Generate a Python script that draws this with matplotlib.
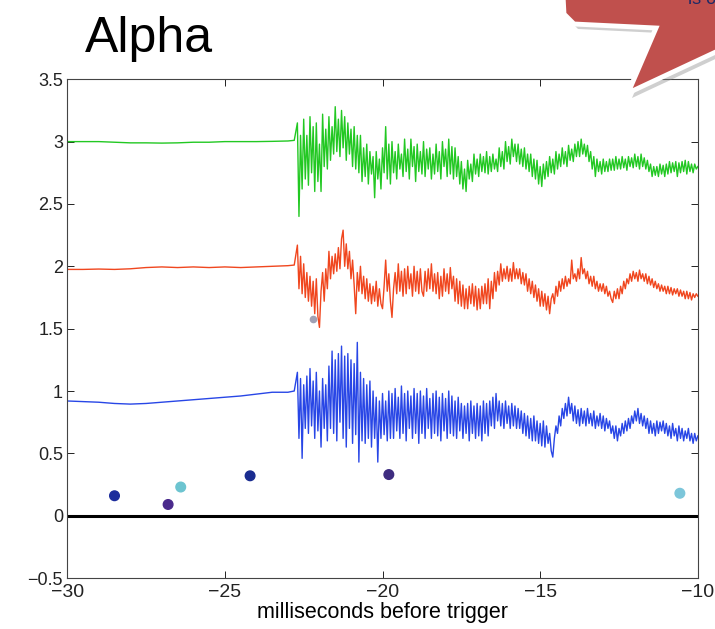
import numpy as np
import matplotlib.pyplot as plt
from matplotlib.patches import Polygon

plt.rcParams['font.family'] = ['Liberation Sans', 'DejaVu Sans']

# quiet stretch before the onset (ms, value)
flat_t = [-30.0, -29.5, -29.0, -28.5, -28.0, -27.5, -27.0, -26.5,
          -26.0, -25.5, -25.0, -24.5, -24.0, -23.5, -23.0, -22.8]
green_flat = [3.0, 3.0, 3.0, 2.995, 2.99, 2.99, 2.988, 2.99,
              2.995, 2.995, 3.0, 3.0, 3.0, 3.002, 3.005, 3.01]
red_flat = [1.975, 1.975, 1.978, 1.975, 1.98, 1.99, 1.995, 1.99,
            1.995, 1.99, 1.995, 1.99, 1.995, 2.0, 2.005, 2.01]
blue_flat = [0.92, 0.915, 0.91, 0.9, 0.895, 0.9, 0.91, 0.92,
             0.93, 0.94, 0.95, 0.96, 0.975, 0.99, 0.99, 1.0]

# noisy stretch, one sample every 0.05 ms from -22.7 ms (one row = 1 ms)
noisy_t0 = -22.7
noisy_dt = 0.05
green_noisy = [
    3.15, 2.40, 3.05, 2.62, 3.18, 2.70, 3.05, 2.65, 3.20, 2.75, 3.12, 2.60, 3.15, 2.68, 2.98, 2.60, 3.22, 2.80, 3.10, 2.78,
    3.20, 2.85, 3.12, 2.90, 3.28, 2.92, 3.18, 2.88, 3.25, 2.95, 3.20, 2.85, 3.15, 2.90, 3.10, 2.80, 3.12, 2.78, 3.05, 2.75,
    3.05, 2.68, 2.95, 2.72, 2.98, 2.66, 2.92, 2.74, 2.88, 2.55, 2.92, 2.70, 2.86, 2.62, 2.95, 2.75, 3.12, 2.70, 2.98, 2.66,
    3.00, 2.75, 2.92, 2.70, 2.98, 2.78, 2.90, 2.72, 3.02, 2.76, 2.94, 2.70, 3.02, 2.80, 2.96, 2.68, 2.98, 2.76, 2.92, 2.74,
    3.00, 2.72, 2.94, 2.78, 2.95, 2.70, 2.90, 2.74, 2.98, 2.76, 2.92, 2.70, 3.00, 2.80, 2.94, 2.72, 3.02, 2.74, 2.96, 2.70,
    2.95, 2.72, 2.88, 2.66, 2.84, 2.62, 2.78, 2.60, 2.85, 2.70, 2.82, 2.68, 2.90, 2.74, 2.86, 2.72, 2.90, 2.76, 2.88, 2.75,
    2.92, 2.74, 2.88, 2.76, 2.90, 2.78, 2.86, 2.76, 2.95, 2.80, 2.92, 2.78, 3.00, 2.84, 2.96, 2.82, 3.02, 2.88, 2.98, 2.84,
    2.98, 2.82, 2.94, 2.80, 2.95, 2.78, 2.90, 2.76, 2.90, 2.72, 2.86, 2.70, 2.85, 2.66, 2.80, 2.64, 2.82, 2.70, 2.84, 2.72,
    2.88, 2.75, 2.86, 2.74, 2.92, 2.78, 2.90, 2.80, 2.95, 2.82, 2.92, 2.80, 2.97, 2.85, 2.94, 2.84, 2.98, 2.88, 3.00, 2.88,
    3.02, 2.90, 2.98, 2.88, 2.97, 2.84, 2.92, 2.78, 2.88, 2.72, 2.86, 2.76, 2.84, 2.74, 2.86, 2.76, 2.84, 2.76, 2.86, 2.77,
    2.86, 2.77, 2.88, 2.78, 2.86, 2.78, 2.88, 2.79, 2.86, 2.77, 2.88, 2.80, 2.87, 2.79, 2.90, 2.80, 2.88, 2.78, 2.90, 2.80,
    2.87, 2.78, 2.85, 2.76, 2.82, 2.72, 2.80, 2.73, 2.80, 2.72, 2.82, 2.74, 2.81, 2.72, 2.82, 2.74, 2.84, 2.75, 2.83, 2.76,
    2.84, 2.72, 2.83, 2.75, 2.84, 2.76, 2.85, 2.74, 2.84, 2.76, 2.82, 2.75, 2.82, 2.78, 2.80]
red_noisy = [
    2.17, 1.82, 2.08, 1.78, 2.02, 1.75, 1.95, 1.72, 1.92, 1.68, 1.88, 1.62, 1.90, 1.60, 1.51, 1.80, 1.95, 1.72, 1.98, 1.82,
    2.12, 1.90, 2.08, 1.94, 2.10, 1.96, 2.15, 1.98, 2.22, 2.29, 2.00, 2.18, 1.98, 2.12, 1.90, 2.05, 1.85, 1.62, 1.95, 1.80,
    2.00, 1.78, 1.92, 1.74, 1.90, 1.72, 1.86, 1.70, 1.84, 1.72, 1.88, 1.68, 1.82, 1.70, 1.66, 1.84, 2.05, 1.80, 1.94, 1.72,
    1.59, 1.82, 1.95, 1.78, 2.02, 1.80, 1.96, 1.76, 1.98, 1.78, 2.00, 1.82, 1.94, 1.76, 2.00, 1.80, 1.96, 1.78, 1.98, 1.80,
    1.76, 1.96, 1.80, 1.98, 1.82, 2.02, 1.80, 1.94, 1.78, 1.95, 1.74, 1.92, 1.76, 1.98, 1.80, 1.94, 1.78, 1.99, 1.82, 1.92,
    1.72, 1.90, 1.70, 1.88, 1.68, 1.85, 1.66, 1.82, 1.66, 1.84, 1.70, 1.86, 1.68, 1.84, 1.65, 1.82, 1.66, 1.84, 1.70, 1.86,
    1.70, 1.90, 1.66, 1.88, 1.74, 1.95, 1.80, 1.96, 1.85, 2.02, 1.88, 1.98, 1.90, 2.00, 1.88, 1.98, 1.88, 2.03, 1.90, 1.98,
    1.90, 1.98, 1.86, 1.95, 1.85, 1.94, 1.80, 1.90, 1.78, 1.88, 1.75, 1.85, 1.72, 1.82, 1.68, 1.80, 1.68, 1.78, 1.65, 1.76,
    1.62, 1.74, 1.78, 1.70, 1.84, 1.76, 1.88, 1.80, 1.90, 1.82, 1.92, 1.84, 1.90, 1.86, 2.05, 1.90, 1.94, 1.88, 1.98, 1.90,
    2.07, 1.94, 1.98, 1.90, 1.96, 1.86, 1.92, 1.84, 1.92, 1.82, 1.88, 1.80, 1.86, 1.80, 1.86, 1.78, 1.84, 1.76, 1.80, 1.74,
    1.71, 1.80, 1.74, 1.82, 1.74, 1.84, 1.78, 1.88, 1.82, 1.90, 1.86, 1.94, 1.88, 1.96, 1.90, 1.95, 1.88, 1.97, 1.90, 1.94,
    1.88, 1.94, 1.86, 1.92, 1.85, 1.90, 1.83, 1.88, 1.82, 1.86, 1.80, 1.85, 1.80, 1.84, 1.78, 1.84, 1.78, 1.83, 1.77, 1.82,
    1.78, 1.82, 1.76, 1.81, 1.76, 1.80, 1.74, 1.80, 1.74, 1.79, 1.73, 1.78, 1.75, 1.78, 1.76]
blue_noisy = [
    1.15, 0.62, 1.10, 0.46, 1.05, 0.70, 1.12, 0.66, 1.18, 0.72, 1.08, 0.62, 1.15, 0.68, 1.00, 0.55, 1.10, 0.70, 1.05, 0.60,
    1.20, 0.70, 1.32, 0.66, 1.25, 0.60, 1.30, 0.75, 1.36, 0.62, 1.28, 0.55, 1.30, 0.70, 1.25, 0.58, 1.22, 0.65, 1.39, 0.43,
    1.15, 0.60, 1.10, 0.58, 1.05, 0.62, 1.08, 0.55, 1.00, 0.62, 0.95, 0.43, 0.92, 0.62, 0.98, 0.65, 0.92, 0.60, 1.00, 0.62,
    0.98, 0.62, 1.02, 0.68, 0.95, 0.62, 1.04, 0.66, 0.98, 0.60, 1.00, 0.70, 0.96, 0.62, 1.02, 0.66, 0.98, 0.58, 1.00, 0.66,
    0.96, 0.62, 1.02, 0.70, 0.94, 0.62, 0.98, 0.66, 1.00, 0.64, 0.95, 0.60, 0.98, 0.68, 0.94, 0.62, 1.00, 0.66, 0.96, 0.64,
    0.92, 0.62, 0.95, 0.68, 0.90, 0.62, 0.88, 0.66, 0.90, 0.60, 0.92, 0.66, 0.88, 0.62, 0.90, 0.64, 0.88, 0.60, 0.92, 0.66,
    0.90, 0.64, 0.92, 0.72, 0.95, 0.70, 0.98, 0.76, 0.92, 0.72, 0.90, 0.70, 0.92, 0.74, 0.88, 0.70, 0.90, 0.72, 0.88, 0.70,
    0.86, 0.70, 0.84, 0.66, 0.82, 0.64, 0.80, 0.62, 0.78, 0.60, 0.80, 0.60, 0.76, 0.58, 0.74, 0.56, 0.76, 0.55, 0.72, 0.58,
    0.66, 0.52, 0.47, 0.62, 0.72, 0.66, 0.80, 0.72, 0.86, 0.78, 0.90, 0.80, 0.95, 0.82, 0.90, 0.76, 0.88, 0.74, 0.85, 0.72,
    0.86, 0.74, 0.84, 0.72, 0.86, 0.74, 0.82, 0.72, 0.84, 0.70, 0.80, 0.72, 0.82, 0.70, 0.80, 0.68, 0.78, 0.70, 0.76, 0.66,
    0.72, 0.62, 0.72, 0.60, 0.70, 0.64, 0.74, 0.66, 0.76, 0.68, 0.78, 0.70, 0.80, 0.74, 0.84, 0.76, 0.86, 0.74, 0.82, 0.72,
    0.80, 0.70, 0.78, 0.66, 0.76, 0.66, 0.74, 0.64, 0.76, 0.66, 0.75, 0.68, 0.76, 0.66, 0.74, 0.64, 0.72, 0.62, 0.74, 0.64,
    0.70, 0.60, 0.72, 0.62, 0.70, 0.60, 0.68, 0.62, 0.70, 0.60, 0.66, 0.58, 0.66, 0.60, 0.64]

# event markers
dot_t = [-28.5, -26.8, -26.4, -24.2, -19.8, -10.57]
dot_y = [0.16, 0.09, 0.23, 0.32, 0.33, 0.18]
dot_colors = ['#1c2c9c', '#4a2a8c', '#6cc4d0', '#1a2c90', '#3e2c80', '#7cc6da']
stray_t = [-22.22]
stray_y = [1.58]

fig = plt.figure(figsize=(7.15, 6.29), dpi=100)
ax = fig.add_axes([0.094, 0.081, 0.882, 0.793])

for flat, noisy, col in [(green_flat, green_noisy, '#22c822'),
                         (red_flat, red_noisy, '#f0461e'),
                         (blue_flat, blue_noisy, '#2846e6')]:
    noisy_t = noisy_t0 + noisy_dt * np.arange(len(noisy))
    t = np.concatenate([flat_t, noisy_t])
    y = np.concatenate([flat, noisy])
    ax.plot(t, y, color=col, lw=1.0)

ax.axhline(0, color='black', lw=2.2)
ax.scatter(dot_t, dot_y, s=48, c=dot_colors, zorder=3)
ax.scatter(stray_t, stray_y, s=20, c='#a0a0b4', zorder=3)

ax.set_xlim(-30, -10)
ax.set_ylim(-0.5, 3.5)
ax.set_xticks([-30, -25, -20, -15, -10])
ax.set_yticks([-0.5, 0, 0.5, 1, 1.5, 2, 2.5, 3, 3.5])
ax.set_yticklabels(['\u22120.5', '0', '0.5', '1', '1.5', '2', '2.5', '3', '3.5'])
ax.tick_params(direction='in', length=5, width=0.7, top=True, right=True,
               labelsize=13, pad=3, colors='#222222')
ax.tick_params(axis='x', labelsize=14, pad=4)
for s in ax.spines.values():
    s.set_color('#444444')
    s.set_linewidth(0.8)
ax.set_xlabel('milliseconds before trigger', fontsize=15.5, labelpad=1)

fig.text(0.119, 0.917, 'Alpha', fontsize=36, va='baseline', ha='left')

# red callout at the top right corner
W, H = 715.0, 629.0
pts = [(563, -5), (564, 14), (574, 24), (656, 28), (628, 93), (720, 50), (720, -5)]
shadow = [((x + 4) / W, 1 - (y + 5) / H) for x, y in pts]
fig.patches.append(Polygon(shadow, closed=True, transform=fig.transFigure,
                           facecolor='#888888', edgecolor='none', alpha=0.4))
fig.patches.append(Polygon([(x / W, 1 - y / H) for x, y in pts], closed=True,
                           transform=fig.transFigure, facecolor='#c0504d',
                           edgecolor='white', lw=3.5, joinstyle='miter'))
fig.text(0.982, 1.0, 'is o', fontsize=13, color='#1f2a66', ha='center', va='center')

fig.savefig('out.png', dpi=100)
